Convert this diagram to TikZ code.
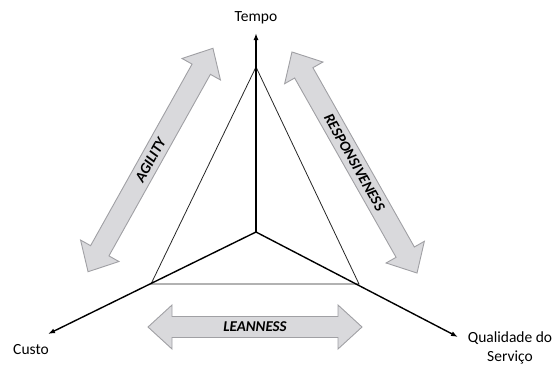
\documentclass[tikz,border=0pt]{standalone}
\usepackage{fontspec}
\setmainfont{Carlito}
\usetikzlibrary{arrows.meta}
\definecolor{arrfill}{RGB}{217,217,220}
\definecolor{arrdraw}{RGB}{160,160,164}
\tikzset{
  axis/.style={line width=1.4pt,-{Latex[length=7pt,width=5pt]}},
  tri/.style={line width=0.8pt,draw=black!85},
  band/.style={fill=arrfill,draw=arrdraw,line width=0.9pt,line join=miter},
  bandlabel/.style={font=\fontsize{15}{17}\selectfont\bfseries\itshape,transform shape,inner sep=0pt},
  axlabel/.style={font=\fontsize{15.5}{19}\selectfont,inner sep=0pt,align=center}
}
% #1 centre, #2 angle, #3 half length, #4 name, #5 text
\newcommand\dblband[5]{%
  \begin{scope}[shift={(#1)},rotate=#2]
    \path[band] (-#3,0) -- (-#3+24,22) -- (-#3+24,10.5) -- (#3-24,10.5) -- (#3-24,22)
      -- (#3,0) -- (#3-24,-22) -- (#3-24,-10.5) -- (-#3+24,-10.5) -- (-#3+24,-22) -- cycle;
    \node[bandlabel] (#4) at (0,0) {#5};
  \end{scope}}
\begin{document}
\begin{tikzpicture}[x=1pt,y=-1pt]
\useasboundingbox (0,0) rectangle (555,365);
\coordinate (O) at (256,232);
\coordinate (A) at (256,67);
\coordinate (L) at (151,284);
\coordinate (R) at (359,284);
\node[axlabel] (tempo) at (256,18) {Tempo};
\node[axlabel] (custo) at (31,350) {Custo};
\node[axlabel] (qual) at (510,348) {Qualidade do\\Serviço};
\coordinate (tT) at (256,33);
\coordinate (tC) at (48,334);
\coordinate (tQ) at (458,337);
\draw[tri] (A) -- (L) -- (R) -- cycle;
\draw[tri] (A) -- (O);
\draw[axis] (O) -- (tT);
\draw[axis] (O) -- (tC);
\draw[axis] (O) -- (tQ);
\dblband{150.5,160}{60.8}{128}{agility}{AGILITY}
\dblband{354.5,162.5}{-60.5}{127}{resp}{RESPONSIVENESS}
\dblband{255,327}{0}{107}{lean}{LEANNESS}
\end{tikzpicture}
\end{document}
